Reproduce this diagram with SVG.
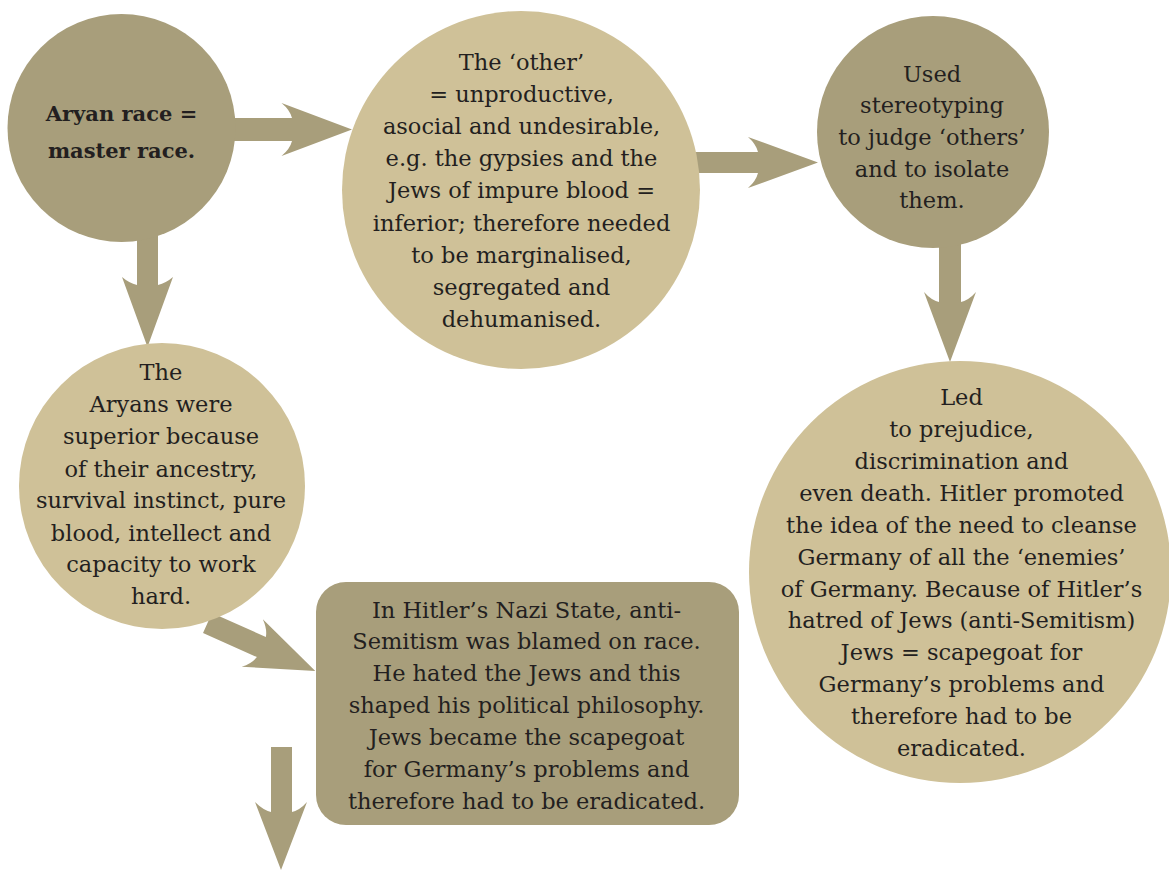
<svg xmlns="http://www.w3.org/2000/svg" width="1169" height="871" viewBox="0 0 1169 871">
<style>
.dark{fill:#a89e7b}
.light{fill:#cfc198}
.arr{fill:#a89e7b}
text{font-family:"DejaVu Serif","Liberation Serif",serif;font-size:22.5px;fill:#231f20;text-anchor:middle}
.b{font-weight:bold;font-size:21px}
</style>
<rect width="1169" height="871" fill="#ffffff"/>
<g id="connectors">
<path class="arr" d="M228,118 H292 Q290,110 281.5,103 L352,129.5 L281.5,156 Q290,149 292,141 H228 Z"/>
<path class="arr" d="M695,152 H758 Q756,144 748,137 L818,162.5 L748,188 Q756,181 758,173 H695 Z"/>
<path class="arr" d="M939,240 V302 Q931,300 924,292 L950,362 L976,292 Q969,300 961,302 V240 Z"/>
<path class="arr" d="M137,230 V285 Q129,283 122,277 L147.5,347 L173,277 Q166,283 158,285 V230 Z"/>
<path class="arr" d="M0,-11 H59 Q57,-19 49,-26 L118,0 L49,26 Q57,19 59,11 H0 Z" transform="translate(207.5,623) rotate(24)"/>
<path class="arr" d="M271,747 V812 Q263,810 255,802 L281,870 L307,802 Q300,810 292,812 V747 Z"/>
</g>
<g id="n1">
<circle class="dark" cx="121.5" cy="128" r="114"/>
<text class="b" x="121.5" y="120.5">Aryan race =</text>
<text class="b" x="121.5" y="157.5">master race.</text>
</g>
<g id="n2">
<circle class="light" cx="521" cy="190" r="179"/>
<text x="521.5" y="70">The ‘other’</text>
<text x="521.5" y="102">= unproductive,</text>
<text x="521.5" y="134">asocial and undesirable,</text>
<text x="521.5" y="166">e.g. the gypsies and the</text>
<text x="521.5" y="198">Jews of impure blood =</text>
<text x="521.5" y="230.5">inferior; therefore needed</text>
<text x="521.5" y="262.5">to be marginalised,</text>
<text x="521.5" y="294.5">segregated and</text>
<text x="521.5" y="326.5">dehumanised.</text>
</g>
<g id="n3">
<circle class="dark" cx="933" cy="132" r="116"/>
<text x="932" y="81.5">Used</text>
<text x="932" y="113">stereotyping</text>
<text x="932" y="144.5">to judge ‘others’</text>
<text x="932" y="176.5">and to isolate</text>
<text x="932" y="208">them.</text>
</g>
<g id="n4">
<circle class="light" cx="960" cy="572" r="211"/>
<text x="961.5" y="405">Led</text>
<text x="961.5" y="437">to prejudice,</text>
<text x="961.5" y="469">discrimination and</text>
<text x="961.5" y="500.5">even death. Hitler promoted</text>
<text x="961.5" y="532.5">the idea of the need to cleanse</text>
<text x="961.5" y="564.5">Germany of all the ‘enemies’</text>
<text x="961.5" y="596.5">of Germany. Because of Hitler’s</text>
<text x="961.5" y="628">hatred of Jews (anti-Semitism)</text>
<text x="961.5" y="660">Jews = scapegoat for</text>
<text x="961.5" y="692">Germany’s problems and</text>
<text x="961.5" y="724">therefore had to be</text>
<text x="961.5" y="756">eradicated.</text>
</g>
<g id="n5">
<circle class="light" cx="162" cy="486" r="143"/>
<text x="161" y="380">The</text>
<text x="161" y="412">Aryans were</text>
<text x="161" y="444">superior because</text>
<text x="161" y="476.5">of their ancestry,</text>
<text x="161" y="508">survival instinct, pure</text>
<text x="161" y="540.5">blood, intellect and</text>
<text x="161" y="572">capacity to work</text>
<text x="161" y="604">hard.</text>
</g>
<g id="n6">
<rect class="dark" x="316" y="582" width="423" height="243" rx="30"/>
<text x="526.5" y="617.5">In Hitler’s Nazi State, anti-</text>
<text x="526.5" y="649">Semitism was blamed on race.</text>
<text x="526.5" y="681">He hated the Jews and this</text>
<text x="526.5" y="713">shaped his political philosophy.</text>
<text x="526.5" y="745">Jews became the scapegoat</text>
<text x="526.5" y="777">for Germany’s problems and</text>
<text x="526.5" y="809">therefore had to be eradicated.</text>
</g>
</svg>
